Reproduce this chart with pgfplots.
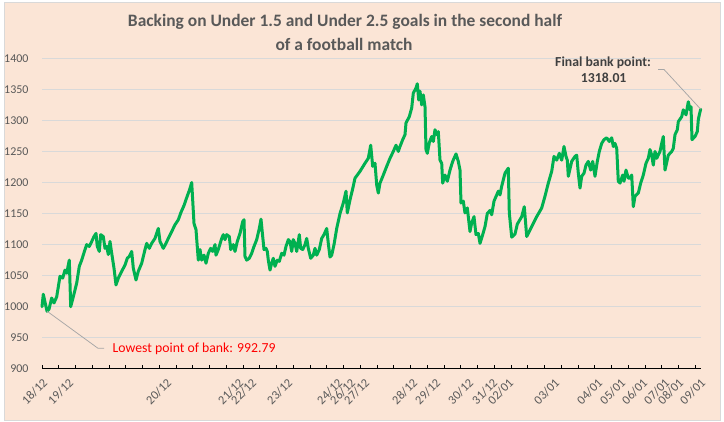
\documentclass[border=0pt]{standalone}
\usepackage{fontspec}
\setmainfont{Carlito}
\usepackage{pgfplots}
\pgfplotsset{compat=1.18}
\definecolor{chartbg}{HTML}{FBE5D6}
\definecolor{linegreen}{HTML}{00B050}
\definecolor{labelgrey}{HTML}{595959}
\definecolor{darktext}{HTML}{404040}
\definecolor{gridgrey}{HTML}{D9D9D9}
\definecolor{leadergrey}{HTML}{A6A6A6}

\begin{document}
\begin{tikzpicture}
\path[use as bounding box, fill=white] (0,0) rectangle (724bp,422bp);
\fill[chartbg, draw=gridgrey, line width=0.75bp] (4bp,2bp) rectangle (720bp,420bp);

% chart title
\node[anchor=base, font=\fontsize{17.5}{21}\selectfont\bfseries, text=labelgrey]
  at (345bp,395.3bp) {Backing on Under 1.5 and Under 2.5 goals in the second half};
\node[anchor=base, font=\fontsize{17.5}{21}\selectfont\bfseries, text=labelgrey]
  at (344bp,371.3bp) {of a football match};

\begin{axis}[
  at={(42bp,53.2bp)}, anchor=south west,
  scale only axis, width=659bp, height=310.5bp,
  xmin=0, xmax=659, ymin=900, ymax=1400,
  clip=false,
  axis x line*=bottom, axis y line*=left,
  x axis line style={black, line width=1bp},
  y axis line style={draw=none},
  ytick={900,950,...,1400},
  ytick style={draw=none},
  ymajorgrids,
  grid style={gridgrey, line width=1bp},
  xtick={0,16.75,...,654},
  xticklabels={},
  tick align=inside,
  major tick length=4bp,
  xtick style={black, line width=0.8bp},
  /pgf/number format/assume math mode=true,
  /pgf/number format/1000 sep={},
  ticklabel style={font=\fontsize{12}{14}\selectfont, text=labelgrey},
  yticklabel style={xshift=-10bp},
  extra x ticks={0,26,124,196,209,245,295,308,322,370,393,426,450,466,512,555,578,600,622,636,658},
  extra x tick labels={18/12,19/12,20/12,21/12,22/12,23/12,24/12,26/12,27/12,28/12,29/12,30/12,31/12,02/01,03/01,04/01,05/01,06/01,07/01,08/01,09/01},
  extra x tick style={major tick length=0pt,
    xticklabel style={rotate=45, anchor=east, yshift=-11bp, xshift=-3bp,
      font=\fontsize{12.5}{14}\selectfont}},
]
\addplot[linegreen, line width=3bp, line join=round, line cap=round] coordinates {
(0,1000) (1.3,1020) (4,1000) (5,992.79) (7,996) (9.7,1014) (12,1006) (14.7,1016)
(16.3,1032) (18,1049) (20.7,1046) (23,1059) (24.7,1054) (27.3,1075) (28.7,1000)
(31.3,1016) (34.7,1038) (37.3,1065) (39.7,1075) (43,1092) (44.7,1100) (47.3,1097)
(49.7,1105) (52,1113) (54,1118) (55.3,1097) (57.3,1089) (58.7,1116) (61.3,1113)
(63,1094) (64.7,1097) (66.3,1084) (68,1105) (69.7,1086) (72,1062) (74,1035)
(76.3,1046) (79.7,1057) (83,1067) (85.3,1078) (87.3,1081) (89.7,1089) (91.3,1062)
(94,1043) (96.3,1057) (99.7,1070) (103,1092) (104.7,1102) (107.3,1094) (109.7,1102)
(113,1110) (116.3,1126) (118,1105) (121.3,1094) (124,1102) (126.3,1110) (129.7,1121)
(133,1132) (136.3,1140) (139,1152) (142,1163) (145,1177) (147.5,1188) (149.7,1200)
(152,1134) (154,1124) (156.3,1075) (158,1092) (159.7,1075) (162,1083) (164,1070)
(166.3,1086) (168.7,1094) (170.7,1089) (173,1100) (174,1083) (176.3,1092) (179.7,1110)
(181.3,1116) (183,1108) (184.7,1116) (187.3,1113) (188.7,1092) (191.3,1100) (193,1089)
(195.3,1105) (198,1118) (200.7,1137) (202,1140) (203,1081) (204.7,1075) (207.3,1078)
(209.7,1086) (212,1097) (214.7,1108) (217.3,1126) (219,1141) (220.7,1113) (222,1092)
(224,1094) (225.3,1089) (226.3,1075) (228,1059) (229.7,1070) (231.3,1078) (233,1065)
(235.3,1075) (237.3,1073) (239.7,1086) (242,1083) (244,1097) (246.3,1108) (248,1105)
(249.7,1089) (251.3,1108) (253,1102) (254.7,1089) (257.3,1116) (258.7,1094) (260.7,1092)
(263,1100) (264.7,1110) (266.3,1094) (268.7,1078) (271.3,1083) (273,1094) (274.7,1083)
(277.3,1092) (279.7,1110) (282,1116) (284.7,1126) (286.3,1102) (288,1080) (289.7,1083)
(292,1100) (294.7,1126) (298,1150) (301.3,1167) (304,1186) (305.3,1151) (308,1172)
(310.7,1190) (313,1207) (315.3,1212) (318,1218) (323,1231) (326.3,1239) (328.7,1260)
(330.7,1226) (333,1231) (334.7,1196) (336.3,1183) (338,1199) (341.3,1212) (344.7,1226)
(348,1239) (351.3,1250) (354,1260) (356.3,1250) (358,1258) (360.7,1269) (363,1277)
(364,1296) (367.3,1306) (369.7,1320) (371.3,1344) (374,1352) (375.3,1359) (376.7,1333)
(378,1347) (379.7,1325) (381.3,1341) (383,1322) (384,1253) (385.3,1247) (387.3,1264)
(389.7,1274) (391.3,1266) (393,1285) (394.7,1277) (396.3,1282) (398,1236) (399.7,1231)
(400.7,1199) (403,1212) (405.3,1202) (408,1220) (410.7,1234) (414,1246) (416.3,1234)
(418,1220) (419,1167) (421.3,1170) (423,1151) (425.3,1159) (428,1121) (429.7,1135)
(432,1145) (434,1116) (436.3,1118) (438,1102) (440.7,1116) (443,1129) (445.3,1150)
(448,1155) (449.7,1148) (452,1170) (454.7,1180) (456.3,1186) (458,1180) (459.7,1194)
(463,1215) (466.3,1223) (467.3,1151) (469.7,1112) (473,1117) (475.3,1133) (479.7,1145)
(482.3,1161) (484.7,1113) (489.7,1129) (494.7,1145) (499.7,1159) (503,1178) (506.3,1199)
(509.7,1218) (512,1242) (514.7,1236) (517.3,1247) (519.7,1236) (522,1258) (524,1242)
(525.3,1236) (526.3,1210) (529.7,1234) (533,1242) (534.7,1244) (536.3,1215) (538,1191)
(539.7,1210) (542,1215) (544,1228) (546.3,1234) (548.7,1220) (550.7,1234) (553,1210)
(555.3,1234) (557.3,1250) (559.7,1263) (562,1269) (564.7,1272) (567.3,1266) (569.7,1272)
(571.3,1258) (573,1263) (574.7,1255) (576.3,1202) (578,1199) (580.7,1212) (582,1202)
(584,1220) (586.3,1207) (588,1207) (589.7,1212) (591.3,1161) (593,1178) (596.3,1183)
(598.7,1199) (601.3,1212) (604,1231) (606.3,1239) (608,1253) (609.7,1244) (611.3,1228)
(613,1250) (614.7,1239) (618,1250) (619.7,1263) (621.3,1274) (623,1220) (626.3,1244)
(629.7,1250) (631.3,1255) (633,1277) (635.3,1285) (636.3,1298) (639.7,1306) (641.3,1317)
(644,1309) (646.3,1330) (648,1317) (649,1322) (650,1269) (653,1274) (655.3,1282)
(656.3,1301) (657.3,1309) (658.7,1318.01)
};

% callouts for the lowest and the final bank values
\draw[leadergrey, line width=0.75bp] (axis cs:5,992.79) -- (axis cs:56,933) -- (axis cs:62,933);
\node[anchor=base west, inner sep=0pt, text=red, font=\fontsize{13.8}{16}\selectfont]
  at (axis cs:70.5,925.8) {Lowest point of bank: 992.79};
\draw[leadergrey, line width=0.75bp] (axis cs:658.7,1318.01) -- (axis cs:622,1382) -- (axis cs:616,1382);
\node[anchor=base, inner sep=0pt, text=darktext, font=\fontsize{13.8}{16}\selectfont\bfseries]
  at (axis cs:561,1386.8) {Final bank point:};
\node[anchor=base, inner sep=0pt, text=darktext, font=\fontsize{13.8}{16}\selectfont\bfseries]
  at (axis cs:561.7,1360.6) {1318.01};
\end{axis}
\end{tikzpicture}
\end{document}
